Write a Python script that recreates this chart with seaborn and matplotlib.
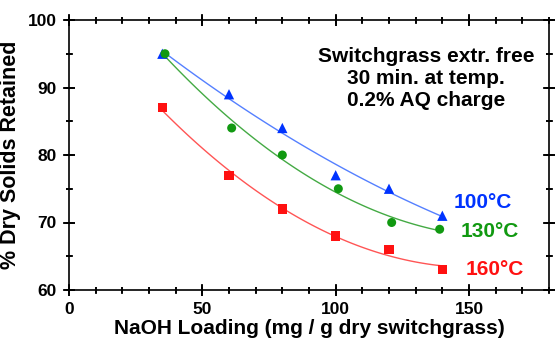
import matplotlib
matplotlib.use("Agg")
import matplotlib.pyplot as plt
import seaborn as sns
import pandas as pd
import numpy as np
from matplotlib.ticker import MultipleLocator
from matplotlib.collections import LineCollection

plt.rcParams.update({
    'font.family': ['Liberation Sans', 'DejaVu Sans'],
    'font.weight': 'bold',
    'xtick.direction': 'inout', 'ytick.direction': 'inout',
    'xtick.top': True, 'xtick.bottom': True,
    'ytick.left': True, 'ytick.right': True,
    'xtick.major.size': 8, 'ytick.major.size': 8,
    'xtick.minor.size': 5, 'ytick.minor.size': 5,
    'xtick.major.width': 1.2, 'ytick.major.width': 1.2,
    'xtick.minor.width': 1.2, 'ytick.minor.width': 1.2,
    'xtick.color': 'black', 'ytick.color': 'black',
    'xtick.labelsize': 12.5, 'ytick.labelsize': 12.5,
    'xtick.major.pad': 5, 'ytick.major.pad': 5,
    'axes.linewidth': 1.2, 'axes.edgecolor': 'black',
})

x_100 = [35, 60, 80, 100, 120, 140]
y_100 = [95, 89, 84, 77, 75, 71]
x_130 = [36, 61, 80, 101, 121, 139]
y_130 = [95, 84, 80, 75, 70, 69]
x_160 = [35, 60, 80, 100, 120, 140]
y_160 = [87, 77, 72, 68, 66, 63]
series_labels = ["100°C", "130°C", "160°C"]
annotation = "Switchgrass extr. free\n30 min. at temp.\n0.2% AQ charge"
xticks = [0, 50, 100, 150]
yticks = [60, 70, 80, 90, 100]
xminor = list(range(0, 181, 10))
yminor = list(range(60, 101, 5))

fig = plt.figure(figsize=(5.55, 3.46), dpi=100)
ax = fig.add_axes([69/555, 1-290/346, (549-69)/555, (290-20)/346])

specs = [
    (x_100, y_100, "#0033ff", "#5580ff", "^", 55),
    (x_130, y_130, "#119911", "#44aa44", "o", 42),
    (x_160, y_160, "#ff1111", "#ff5555", "s", 42),
]
for xs, ys, mc, lc, mk, ms in specs:
    df = pd.DataFrame({"x": xs, "y": ys})
    sns.regplot(data=df, x="x", y="y", order=2, ci=None, scatter=False,
                line_kws={"color": lc, "lw": 1.0}, ax=ax)
    sns.scatterplot(data=df, x="x", y="y", marker=mk, color=mc, s=ms,
                    edgecolor="none", ax=ax, zorder=5)

ax.set_xlim(0, 180)
ax.set_ylim(60, 100)
ax.set_xticks(xticks)
ax.set_yticks(yticks)
ax.xaxis.set_minor_locator(MultipleLocator(10))
ax.yaxis.set_minor_locator(MultipleLocator(5))

# Tick marks drawn as line collections (crossing the frame on all four sides)
ax_w_px, ax_h_px = 480.0, 270.0
maj_half, min_half = 5.5, 3.5
segs_x = []
for xs_list, half in ((xminor, min_half), (xticks, maj_half)):
    hy = half / ax_h_px
    for xv in xs_list:
        segs_x.append([(xv, -hy), (xv, hy)])
        segs_x.append([(xv, 1 - hy), (xv, 1 + hy)])
segs_y = []
for ys_list, half in ((yminor, min_half), (yticks, maj_half)):
    hx = half / ax_w_px
    for yv in ys_list:
        segs_y.append([(-hx, yv), (hx, yv)])
        segs_y.append([(1 - hx, yv), (1 + hx, yv)])
ax.add_collection(LineCollection(segs_x, colors="black", linewidths=1.2,
                                 transform=ax.get_xaxis_transform(),
                                 clip_on=False, zorder=6))
ax.add_collection(LineCollection(segs_y, colors="black", linewidths=1.2,
                                 transform=ax.get_yaxis_transform(),
                                 clip_on=False, zorder=6))
ax.set_xlim(0, 180)
ax.set_ylim(60, 100)

ax.set_xlabel("NaOH Loading (mg / g dry switchgrass)", fontsize=15,
              fontweight="bold", labelpad=1, color="black")
ax.set_ylabel("% Dry Solids Retained", fontsize=15.5, fontweight="bold",
              labelpad=5, color="black")

ax.text(134, 91.4, annotation, ha="center", va="center", fontsize=15,
        fontweight="bold", linespacing=1.2, color="black")
label_pos = [(155.2, 72.9, "#0033ff"), (157.9, 68.6, "#119911"), (159.8, 63.1, "#ff1111")]
for (lx, ly, c), t in zip(label_pos, series_labels):
    ax.text(lx, ly, t, ha="center", va="center", fontsize=15,
            fontweight="bold", color=c)

fig.savefig("out.png", dpi=100)
